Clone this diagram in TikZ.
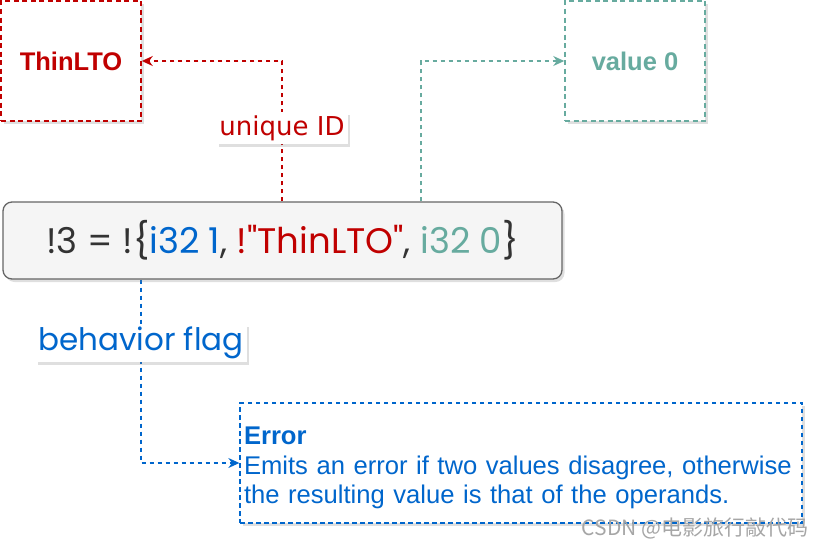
\documentclass[tikz,border=0pt]{standalone}
\usepackage{fontspec}
\setmainfont{Liberation Sans}
\newfontfamily\comicfont{Poppins}[Ligatures=TeXOff]
\newfontfamily\labelfont{DejaVu Sans}
\newfontfamily\cjkfont{Noto Sans CJK SC}
\usetikzlibrary{arrows.meta, shadows, backgrounds}
\definecolor{idred}{HTML}{C00000}
\definecolor{valteal}{HTML}{67AB9F}
\definecolor{flagblue}{HTML}{0066CC}
\definecolor{mdgray}{HTML}{666666}
\definecolor{mdfill}{HTML}{F5F5F5}
\definecolor{mdtext}{HTML}{333333}

\begin{document}
\begin{tikzpicture}[
    x=1pt, y=-1pt,
    >={Stealth[length=11pt, width=10pt]},
    shade/.style={drop shadow={opacity=0.25, shadow xshift=2.5pt, shadow yshift=-3pt}},
    tagbox/.style={draw, line width=1.5pt, dash pattern=on 5pt off 3.5pt,
        fill=white, minimum width=140pt, minimum height=120pt, inner sep=0pt,
        font=\bfseries\fontsize{25.5}{29}\selectfont, shade},
    mdbox/.style={draw=mdgray, fill=mdfill, line width=1.3pt, rounded corners=9pt,
        minimum width=559pt, minimum height=77pt, inner sep=0pt, text=mdtext,
        font=\comicfont\fontsize{35.5}{40}\selectfont, shade},
    errbox/.style={draw=flagblue, line width=1.3pt, dash pattern=on 4.5pt off 3.5pt,
        fill=white, minimum width=562pt, minimum height=120pt, inner xsep=4pt,
        text width=554pt, align=left, text=flagblue,
        font=\fontsize{25.6}{29.5}\selectfont, shade},
    tag/.style={fill=white, inner sep=3pt, shade},
    link/.style={->, line width=1.3pt, dash pattern=on 4.5pt off 3.5pt},
]
\useasboundingbox (0,0) rectangle (824,546);

% the two targets at the top
\node[tagbox, draw=idred, text=idred] (thin) at (71,61) {ThinLTO};
\node[tagbox, draw=valteal, text=valteal] (val) at (635,61) {value 0};

% metadata tuple
\node[mdbox] (md) at (282.5,240.5)
    {!3 = !\{\textcolor{flagblue}{i32 1}, \textcolor{idred}{!"ThinLTO"}, \textcolor{valteal}{i32 0}\}};

% behaviour description
\node[errbox] (err) at (521,463)
    {\rule{0pt}{28pt}\textbf{Error}\\Emits an error if two values disagree, otherwise\\the resulting value is that of the operands.};

% labels on the connectors
\node[tag, text=idred, font=\labelfont\fontsize{26}{29}\selectfont] (uid) at (282,128) {unique ID};
\node[tag, text=flagblue, font=\comicfont\fontsize{31}{35}\selectfont] (flag) at (141,343) {behavior flag};

% connectors
\begin{scope}[on background layer]
\draw[link, idred] (md.north -| uid) |- (thin.east);
\draw[link, valteal] ([xshift=138.5pt]md.north) |- (val.west);
\draw[link, flagblue] (md.south -| flag) |- (err.west);
\end{scope}

% watermark
\node[anchor=east, text=black!35, font=\cjkfont\fontsize{21}{24}\selectfont] (mark) at (812,528) {CSDN @电影旅行敲代码};
\end{tikzpicture}
\end{document}
